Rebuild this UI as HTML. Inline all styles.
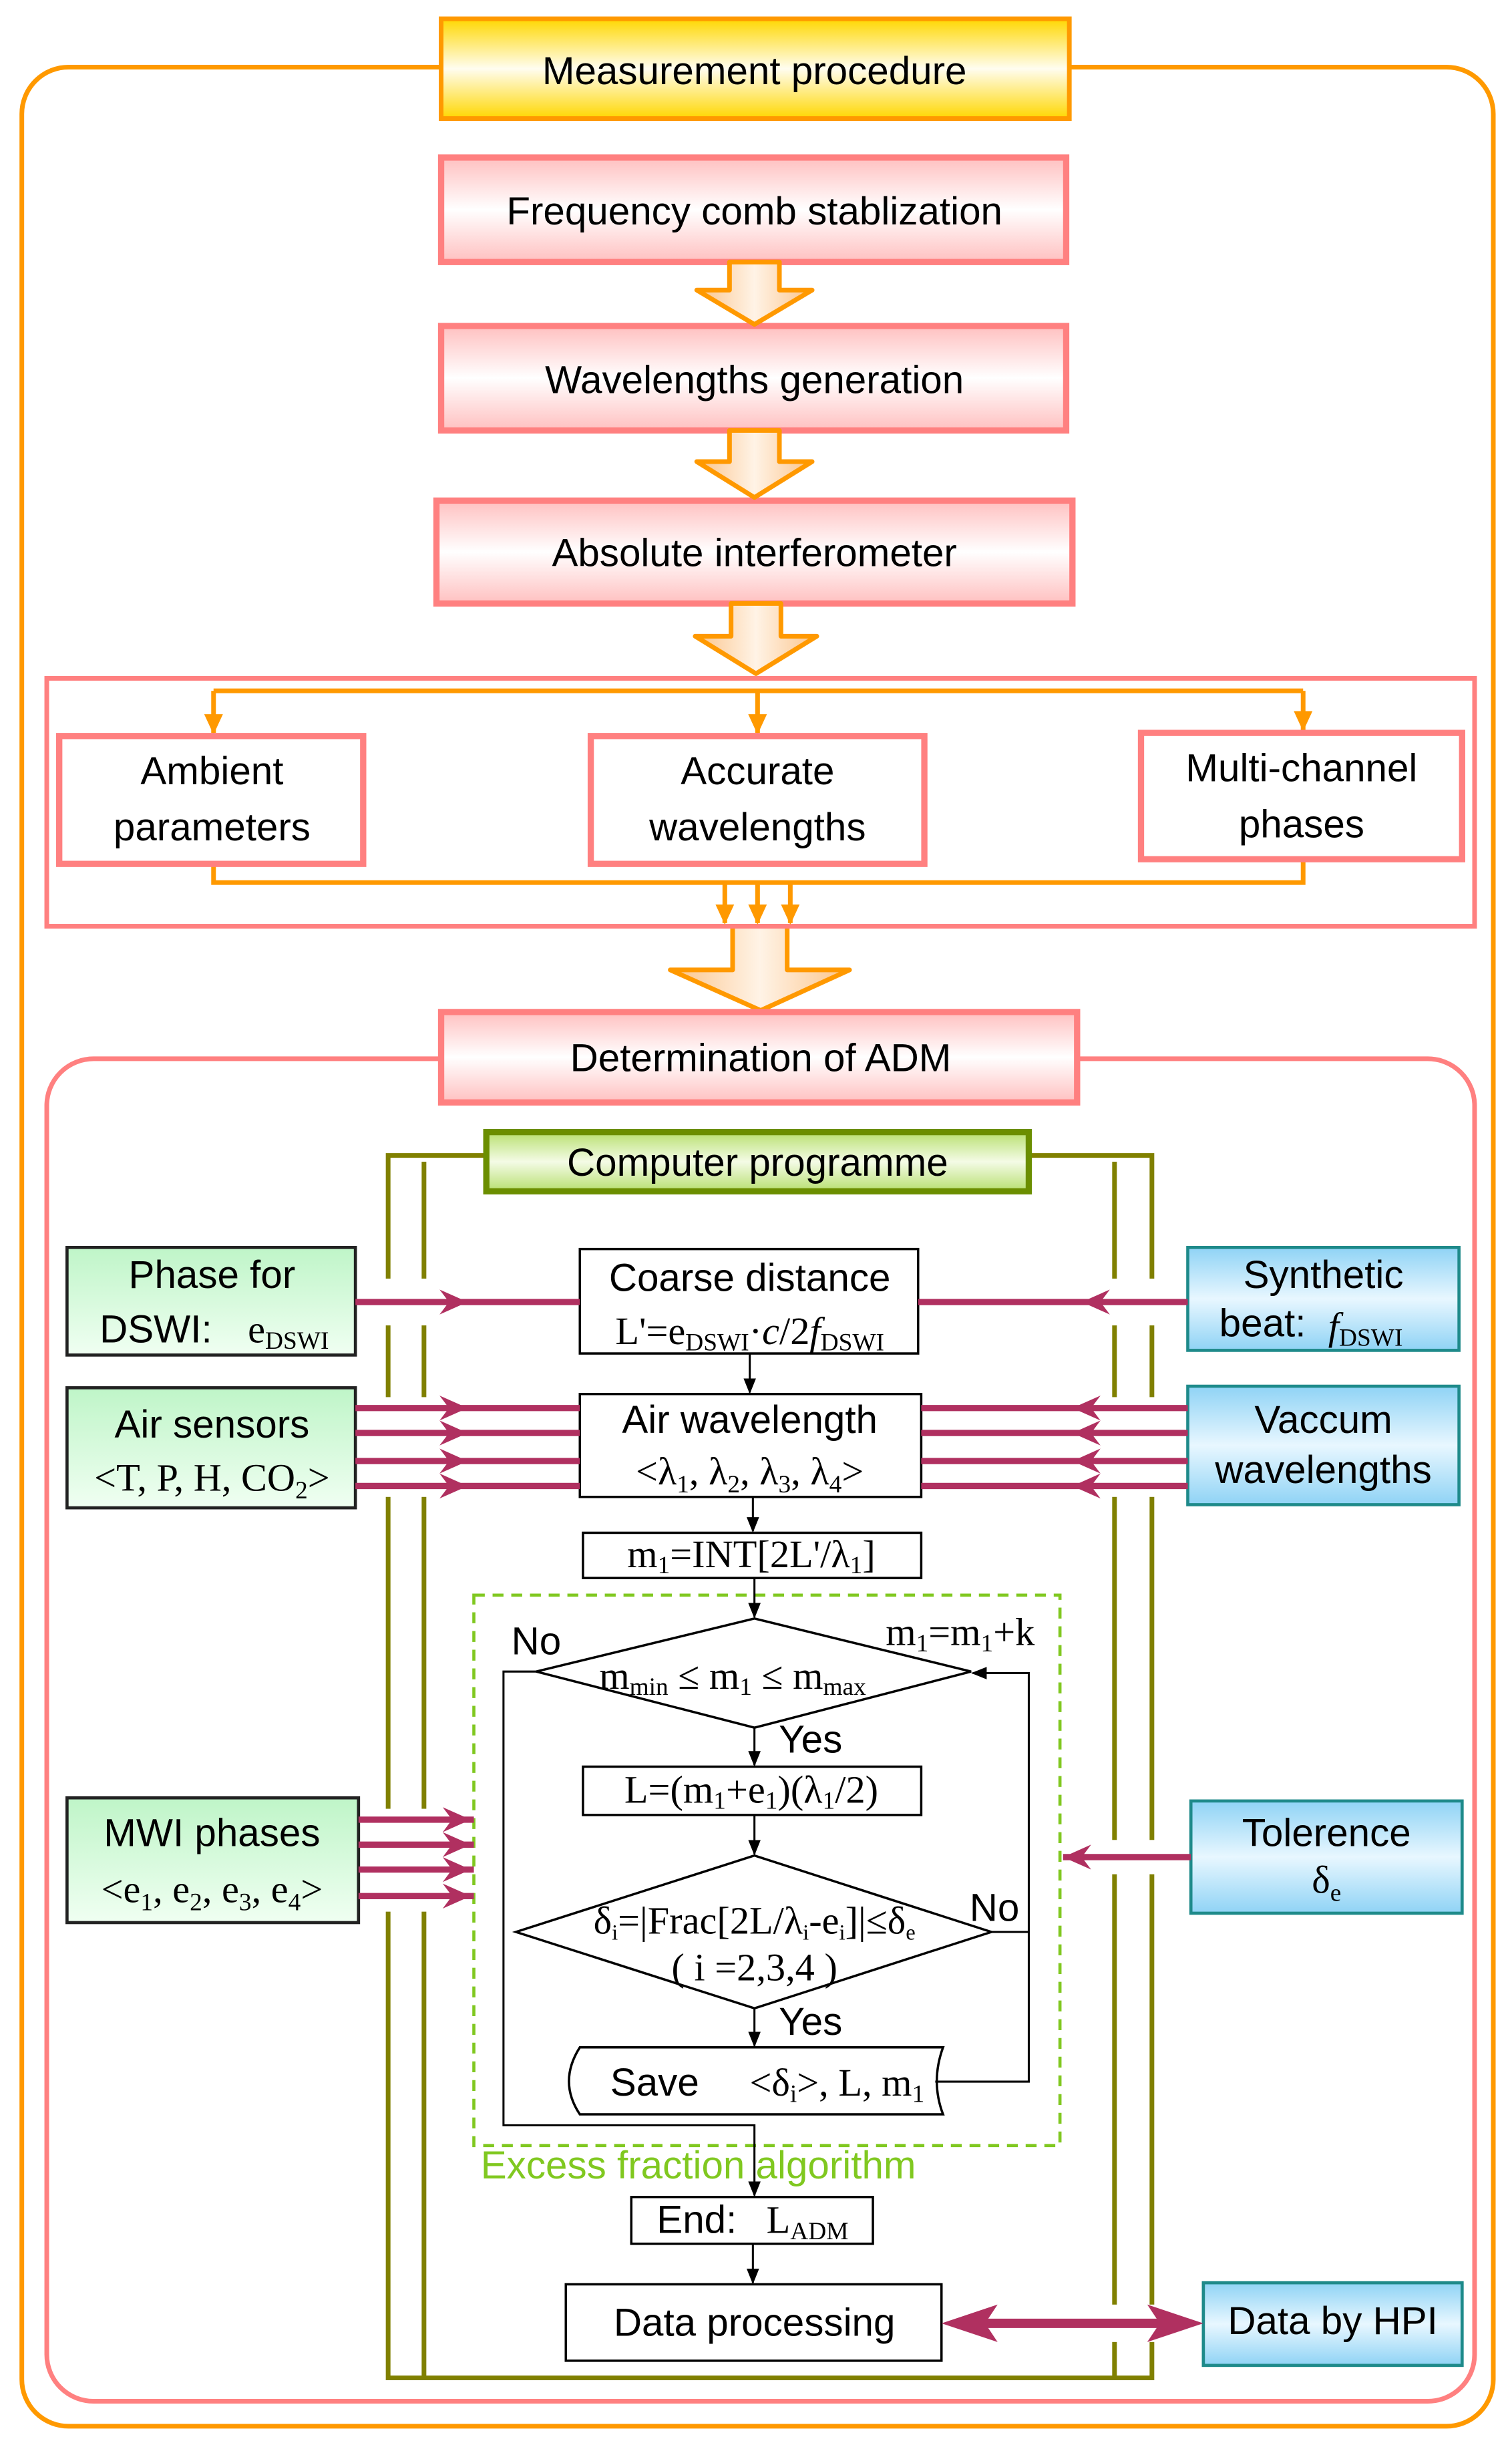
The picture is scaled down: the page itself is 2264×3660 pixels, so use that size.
<!DOCTYPE html>
<html><head><meta charset="utf-8"><style>
html,body{margin:0;padding:0;background:#fff}
svg{display:block}
.c{font-family:"Liberation Sans Narrow","Liberation Sans",sans-serif;font-size:25px;fill:#000;text-anchor:middle}
.s{font-family:"Liberation Serif",serif;font-size:25px;fill:#000;text-anchor:middle}
</style></head><body>
<svg width="2264" height="3660" viewBox="0 0 970 1568" xmlns="http://www.w3.org/2000/svg">
<defs>
<linearGradient id="yel" x1="0" y1="0" x2="0" y2="1"><stop offset="0" stop-color="#FFD700"/><stop offset=".5" stop-color="#FFFDF0"/><stop offset="1" stop-color="#FFD700"/></linearGradient>
<linearGradient id="pk" x1="0" y1="0" x2="0" y2="1"><stop offset="0" stop-color="#FFC0C0"/><stop offset=".5" stop-color="#FFFFFF"/><stop offset="1" stop-color="#FFC0C0"/></linearGradient>
<linearGradient id="ar" x1="0" y1="0" x2="1" y2="0"><stop offset="0" stop-color="#FBC48A"/><stop offset=".5" stop-color="#FFF3E6"/><stop offset="1" stop-color="#FBC48A"/></linearGradient>
<linearGradient id="gr" x1="0" y1="0" x2="0" y2="1"><stop offset="0" stop-color="#BFF5C8"/><stop offset="1" stop-color="#F0FFF2"/></linearGradient>
<linearGradient id="bl" x1="0" y1="0" x2="0" y2="1"><stop offset="0" stop-color="#8FD3F5"/><stop offset=".5" stop-color="#E8F7FF"/><stop offset="1" stop-color="#8FD3F5"/></linearGradient>
<linearGradient id="cp" x1="0" y1="0" x2="0" y2="1"><stop offset="0" stop-color="#B8E070"/><stop offset=".5" stop-color="#F4FBE6"/><stop offset="1" stop-color="#B8E070"/></linearGradient>
<marker id="ah" markerWidth="10" markerHeight="10" refX="9" refY="5" orient="auto" markerUnits="userSpaceOnUse"><path d="M0,1 L10,5 L0,9 Z" fill="#000"/></marker>
<marker id="oh" markerWidth="14" markerHeight="14" refX="12" refY="7" orient="auto" markerUnits="userSpaceOnUse"><path d="M0,1 L13,7 L0,13 Z" fill="#FF9900"/></marker>
</defs>

<rect x="14" y="43" width="944" height="1513" rx="30" fill="none" stroke="#FF9900" stroke-width="3"/>
<rect x="283" y="12" width="403" height="64" fill="url(#yel)" stroke="#FF9900" stroke-width="3"/>
<text class="c" x="484" y="54">Measurement procedure</text>

<rect x="283" y="101" width="401" height="67" fill="url(#pk)" stroke="#FF8080" stroke-width="4"/>
<text class="c" x="484" y="144">Frequency comb stablization</text>
<rect x="283" y="209" width="401" height="67" fill="url(#pk)" stroke="#FF8080" stroke-width="4"/>
<text class="c" x="484" y="252">Wavelengths generation</text>
<rect x="280" y="321" width="408" height="66" fill="url(#pk)" stroke="#FF8080" stroke-width="4"/>
<text class="c" x="484" y="363">Absolute interferometer</text>

<g fill="url(#ar)" stroke="#FF9900" stroke-width="3" stroke-linejoin="round">
<path d="M468,168 H500 V186 H521 L484,208 L447,186 H468 Z"/>
<path d="M468,276 H500 V296 H521 L484,319 L447,296 H468 Z"/>
<path d="M469,387 H501 V408 H524 L485,432 L446,408 H469 Z"/>
<path d="M470,594 H505 V622 H545 L488,648 L430,622 H470 Z"/>
</g>

<rect x="30" y="435" width="916" height="159" fill="none" stroke="#FF8080" stroke-width="3"/>
<g stroke="#FF9900" stroke-width="3" fill="none">
<path d="M137,443 H836"/>
<path d="M137,443 V470" marker-end="url(#oh)"/>
<path d="M486,443 V470" marker-end="url(#oh)"/>
<path d="M836,443 V468" marker-end="url(#oh)"/>
<path d="M137,554 V566 H836 V551"/>
<path d="M465,566 V592" marker-end="url(#oh)"/>
<path d="M486,566 V592" marker-end="url(#oh)"/>
<path d="M507,566 V592" marker-end="url(#oh)"/>
</g>
<rect x="38" y="472" width="195" height="82" fill="#fff" stroke="#FF8080" stroke-width="4"/>
<text class="c" x="136" y="503">Ambient</text><text class="c" x="136" y="539">parameters</text>
<rect x="379" y="472" width="214" height="82" fill="#fff" stroke="#FF8080" stroke-width="4"/>
<text class="c" x="486" y="503">Accurate</text><text class="c" x="486" y="539">wavelengths</text>
<rect x="732" y="470" width="206" height="81" fill="#fff" stroke="#FF8080" stroke-width="4"/>
<text class="c" x="835" y="501">Multi-channel</text><text class="c" x="835" y="537">phases</text>

<rect x="30" y="679" width="916" height="861" rx="30" fill="none" stroke="#FF8080" stroke-width="3"/>
<rect x="283" y="649" width="408" height="58" fill="url(#pk)" stroke="#FF8080" stroke-width="4"/>
<text class="c" x="488" y="687">Determination of ADM</text>

<g stroke="#808000" stroke-width="3" fill="none">
<path d="M312,741 H249 V1525 H739 V741 H660"/>
<path d="M272,745 V1525"/>
<path d="M715,745 V1525"/>
</g>
<rect x="312" y="726" width="348" height="38" fill="url(#cp)" stroke="#6B8E00" stroke-width="4"/>
<text class="c" x="486" y="754">Computer programme</text>

<g fill="#fff">
<rect x="245" y="820" width="32" height="30"/>
<rect x="245" y="896" width="32" height="64"/>
<rect x="245" y="1160" width="32" height="66"/>
<rect x="711" y="820" width="32" height="30"/>
<rect x="711" y="896" width="32" height="64"/>
<rect x="711" y="1180" width="32" height="22"/>
<rect x="711" y="1478" width="32" height="24"/>
</g>

<g stroke="#222" stroke-width="2">
<rect x="43" y="800" width="185" height="69" fill="url(#gr)"/>
<rect x="43" y="890" width="185" height="77" fill="url(#gr)"/>
<rect x="43" y="1153" width="187" height="80" fill="url(#gr)"/>
</g>
<text class="c" x="136" y="826">Phase for</text>
<text class="c" x="100" y="861">DSWI:</text><text class="s" x="185" y="861">e<tspan font-size="16" dy="4">DSWI</tspan></text>
<text class="c" x="136" y="922">Air sensors</text>
<text class="s" x="136" y="956">&lt;T, P, H, CO<tspan font-size="16" dy="5">2</tspan><tspan dy="-5">&gt;</tspan></text>
<text class="c" x="136" y="1184">MWI phases</text>
<text class="s" x="136" y="1220">&lt;e<tspan font-size="16" dy="5">1</tspan><tspan dy="-5">, e</tspan><tspan font-size="16" dy="5">2</tspan><tspan dy="-5">, e</tspan><tspan font-size="16" dy="5">3</tspan><tspan dy="-5">, e</tspan><tspan font-size="16" dy="5">4</tspan><tspan dy="-5">&gt;</tspan></text>

<g stroke="#1E8A8A" stroke-width="2">
<rect x="762" y="800" width="174" height="66" fill="url(#bl)"/>
<rect x="762" y="889" width="174" height="76" fill="url(#bl)"/>
<rect x="764" y="1155" width="174" height="72" fill="url(#bl)"/>
<rect x="772" y="1464" width="166" height="53" fill="url(#bl)"/>
</g>
<text class="c" x="849" y="826">Synthetic</text>
<text class="c" x="810" y="857">beat:</text><text class="s" x="876" y="859"><tspan font-style="italic">f</tspan><tspan font-size="16" dy="4">DSWI</tspan></text>
<text class="c" x="849" y="919">Vaccum</text><text class="c" x="849" y="951">wavelengths</text>
<text class="c" x="851" y="1184">Tolerence</text>
<text class="s" x="851" y="1214">δ<tspan font-size="16" dy="5">e</tspan></text>
<text class="c" x="855" y="1497">Data by HPI</text>

<g stroke="#000" stroke-width="1.5" fill="#fff">
<rect x="372" y="801" width="217" height="67"/>
<rect x="372" y="894" width="219" height="66"/>
<rect x="374" y="983" width="217" height="29"/>
<rect x="374" y="1133" width="217" height="31"/>
<rect x="405" y="1409" width="155" height="30"/>
<rect x="363" y="1465" width="241" height="49"/>
</g>
<rect x="304" y="1023" width="376" height="353" fill="none" stroke="#80C820" stroke-width="2" stroke-dasharray="7,5"/>
<text class="c" x="481" y="828">Coarse distance</text>
<text class="s" x="481" y="862">L'=e<tspan font-size="16" dy="4">DSWI</tspan><tspan dy="-4">·</tspan><tspan font-style="italic">c</tspan>/2<tspan font-style="italic">f</tspan><tspan font-size="16" dy="4">DSWI</tspan></text>
<text class="c" x="481" y="919">Air wavelength</text>
<text class="s" x="481" y="952">&lt;λ<tspan font-size="16" dy="5">1</tspan><tspan dy="-5">, λ</tspan><tspan font-size="16" dy="5">2</tspan><tspan dy="-5">, λ</tspan><tspan font-size="16" dy="5">3</tspan><tspan dy="-5">, λ</tspan><tspan font-size="16" dy="5">4</tspan><tspan dy="-5">&gt;</tspan></text>
<text class="s" x="482" y="1005">m<tspan font-size="16" dy="4">1</tspan><tspan dy="-4">=INT[2L'/λ</tspan><tspan font-size="16" dy="4">1</tspan><tspan dy="-4">]</tspan></text>

<g stroke="#000" stroke-width="1.5" fill="#fff">
<path d="M484,1038 L623,1072 L484,1108 L344,1072 Z"/>
<path d="M484,1190 L636,1239 L484,1288 L331,1239 Z"/>
<path d="M372,1313 H605 Q597,1335 605,1356 H372 Q358,1335 372,1313 Z"/>
</g>
<text class="s" x="470" y="1083">m<tspan font-size="16" dy="4">min</tspan><tspan dy="-4"> ≤ m</tspan><tspan font-size="16" dy="4">1</tspan><tspan dy="-4"> ≤ m</tspan><tspan font-size="16" dy="4">max</tspan></text>
<text class="s" x="616" y="1055">m<tspan font-size="16" dy="4">1</tspan><tspan dy="-4">=m</tspan><tspan font-size="16" dy="4">1</tspan><tspan dy="-4">+k</tspan></text>
<text class="c" x="344" y="1061">No</text>
<text class="c" x="520" y="1124">Yes</text>
<text class="s" x="482" y="1156">L=(m<tspan font-size="16" dy="4">1</tspan><tspan dy="-4">+e</tspan><tspan font-size="16" dy="4">1</tspan><tspan dy="-4">)(λ</tspan><tspan font-size="16" dy="4">1</tspan><tspan dy="-4">/2)</tspan></text>
<text class="s" x="484" y="1240" font-size="21">δ<tspan font-size="14" dy="4">i</tspan><tspan dy="-4">=|Frac[2L/λ</tspan><tspan font-size="14" dy="4">i</tspan><tspan dy="-4">-e</tspan><tspan font-size="14" dy="4">i</tspan><tspan dy="-4">]|≤δ</tspan><tspan font-size="14" dy="4">e</tspan></text>
<text class="s" x="484" y="1270" font-size="21">( i =2,3,4 )</text>
<text class="c" x="638" y="1232">No</text>
<text class="c" x="520" y="1305">Yes</text>
<text class="c" x="420" y="1344" text-anchor="start">Save</text><text class="s" x="537" y="1344">&lt;δ<tspan font-size="16" dy="4">i</tspan><tspan dy="-4">&gt;, L, m</tspan><tspan font-size="16" dy="4">1</tspan></text>
<text x="448" y="1397" font-family="'Liberation Sans Narrow','Liberation Sans',sans-serif" font-size="25" fill="#80C820" text-anchor="middle">Excess  fraction  algorithm</text>
<text class="c" x="447" y="1432">End:</text><text class="s" x="518" y="1432">L<tspan font-size="16" dy="4">ADM</tspan></text>
<text class="c" x="484" y="1498">Data processing</text>

<g stroke="#000" stroke-width="1.3" fill="none">
<path d="M481,868 V893" marker-end="url(#ah)"/>
<path d="M483,960 V982" marker-end="url(#ah)"/>
<path d="M484,1012 V1037" marker-end="url(#ah)"/>
<path d="M484,1108 V1132" marker-end="url(#ah)"/>
<path d="M484,1164 V1189" marker-end="url(#ah)"/>
<path d="M484,1288 V1312" marker-end="url(#ah)"/>
<path d="M344,1072 H323 V1363 H484 V1408" marker-end="url(#ah)"/>
<path d="M600,1335 H660 V1073 H624" marker-end="url(#ah)"/>
<path d="M636,1239 H660"/>
<path d="M483,1439 V1464" marker-end="url(#ah)"/>
</g>

<g stroke="#B03060" stroke-width="4" fill="none" stroke-linecap="butt">
<path d="M228,835 H372"/>
<path d="M589,835 H762"/>
<path d="M228,903 H372 M228,919 H372 M228,937 H372 M228,953 H372"/>
<path d="M591,903 H762 M591,919 H762 M591,937 H762 M591,953 H762"/>
<path d="M230,1167 H304 M230,1183 H304 M230,1199 H304 M230,1216 H304"/>
<path d="M682,1191 H764"/>
<path d="M625,1490 H752" stroke-width="6"/>
</g>
<g fill="#B03060">
<path d="M282,827 L300,835 L282,843 L288,835 Z"/>
<path d="M712,827 L694,835 L712,843 L706,835 Z"/>
<path d="M282,895 L300,903 L282,911 L288,903 Z"/><path d="M282,911 L300,919 L282,927 L288,919 Z"/>
<path d="M282,929 L300,937 L282,945 L288,937 Z"/><path d="M282,945 L300,953 L282,961 L288,953 Z"/>
<path d="M706,895 L688,903 L706,911 L700,903 Z"/><path d="M706,911 L688,919 L706,927 L700,919 Z"/>
<path d="M706,929 L688,937 L706,945 L700,937 Z"/><path d="M706,945 L688,953 L706,961 L700,953 Z"/>
<path d="M284,1159 L302,1167 L284,1175 L290,1167 Z"/><path d="M284,1175 L302,1183 L284,1191 L290,1183 Z"/>
<path d="M284,1191 L302,1199 L284,1207 L290,1199 Z"/><path d="M284,1208 L302,1216 L284,1224 L290,1216 Z"/>
<path d="M700,1183 L682,1191 L700,1199 L694,1191 Z"/>
<path d="M604,1490 L640,1478 L632,1490 L640,1502 Z"/>
<path d="M772,1490 L736,1478 L744,1490 L736,1502 Z"/>
</g>
</svg>
</body></html>
